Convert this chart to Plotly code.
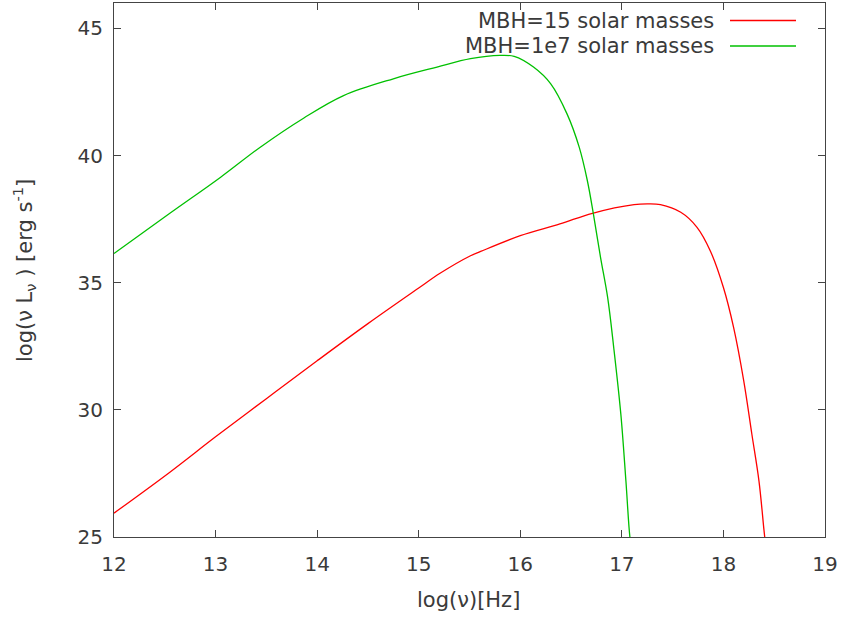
import plotly.graph_objects as go

# Red curve: MBH = 15 solar masses
x_red = [12.0, 12.55, 13.0, 13.5, 14.0, 14.5, 15.0, 15.21, 15.51, 15.61, 16.0, 16.39, 16.71,
         17.12, 17.25, 17.38, 17.58, 17.74, 17.87, 18.0, 18.10, 18.20, 18.28, 18.35, 18.40, 18.42]
y_red = [25.94, 27.55, 28.94, 30.44, 31.93, 33.39, 34.79, 35.37, 36.06, 36.23, 36.85, 37.31, 37.73,
         38.07, 38.10, 38.07, 37.77, 37.18, 36.26, 34.81, 33.24, 31.14, 29.04, 27.2, 25.24, 24.5]

# Green curve: MBH = 1e7 solar masses
x_green = [12.0, 12.55, 13.05, 13.44, 13.87, 14.26, 14.75, 15.18, 15.51, 15.80, 15.94, 16.13,
           16.30, 16.46, 16.58, 16.66, 16.72, 16.79, 16.86, 16.92, 16.99, 17.04, 17.08, 17.10]
y_green = [36.15, 37.73, 39.15, 40.33, 41.48, 42.36, 43.02, 43.48, 43.81, 43.94, 43.9, 43.48,
           42.82, 41.64, 40.33, 39.02, 37.7, 36.0, 34.42, 32.45, 29.83, 27.2, 24.97, 24.5]

x_ticks = [12, 13, 14, 15, 16, 17, 18, 19]
y_ticks = [25, 30, 35, 40, 45]

labels = ["MBH=15 solar masses", "MBH=1e7 solar masses"]
colors = ["#ff0000", "#00c000"]

FONT = "DejaVu Sans"
TXT = "#3a3a3a"

fig = go.Figure()
fig.add_trace(go.Scatter(x=x_red, y=y_red, mode="lines", line=dict(color=colors[0], width=1.3),
                         line_shape="spline", name=labels[0], showlegend=False))
fig.add_trace(go.Scatter(x=x_green, y=y_green, mode="lines", line=dict(color=colors[1], width=1.3),
                         line_shape="spline", name=labels[1], showlegend=False))

W, H = 841, 619
ml, mr, mt, mb = 114, 16, 3, 82

axis_common = dict(showgrid=False, zeroline=False, showline=True, linecolor="#444444", linewidth=1,
                   mirror="allticks", ticks="inside", ticklen=7, tickcolor="#444444",
                   tickfont=dict(family=FONT, size=20, color=TXT))

fig.update_xaxes(range=[12, 19], tickvals=x_ticks, ticktext=[str(v) for v in x_ticks],
                 ticklabelstandoff=9, **axis_common)
fig.update_yaxes(range=[25, 46], tickvals=y_ticks, ticktext=[str(v) for v in y_ticks],
                 ticklabelstandoff=6, **axis_common)

pw = W - ml - mr
ph = H - mt - mb
def px(xpix):
    return (xpix - ml) / pw
def py(ypix):
    return 1 - (ypix - mt) / ph

# axis titles
fig.add_annotation(x=px(468), y=py(600), xref="paper", yref="paper", text="log(ν)[Hz]",
                   showarrow=False, xanchor="center", yanchor="middle",
                   font=dict(family=FONT, size=21, color=TXT))
fig.add_annotation(x=px(24), y=py(271), xref="paper", yref="paper",
                   text="log(ν L<sub>ν</sub> ) [erg s<sup>-1</sup>]", textangle=-90,
                   showarrow=False, xanchor="center", yanchor="middle",
                   font=dict(family=FONT, size=21, color=TXT))

# gnuplot-style key: text right-aligned, sample line on the right
for i, (lab, col) in enumerate(zip(labels, colors)):
    yp = 20.5 + i * 25.5
    fig.add_annotation(x=px(716), y=py(yp), xref="paper", yref="paper", text=lab, showarrow=False,
                       xanchor="right", yanchor="middle",
                       font=dict(family=FONT, size=21, color=TXT))
    fig.add_shape(type="line", xref="paper", yref="paper", x0=px(730), x1=px(796),
                  y0=py(yp), y1=py(yp), line=dict(color=col, width=1.3))

fig.update_layout(width=W, height=H, margin=dict(l=ml, r=mr, t=mt, b=mb),
                  plot_bgcolor="white", paper_bgcolor="white", showlegend=False)

fig.write_html("out.html", config={"displayModeBar": False},
               post_script="document.body.style.margin='0';")
